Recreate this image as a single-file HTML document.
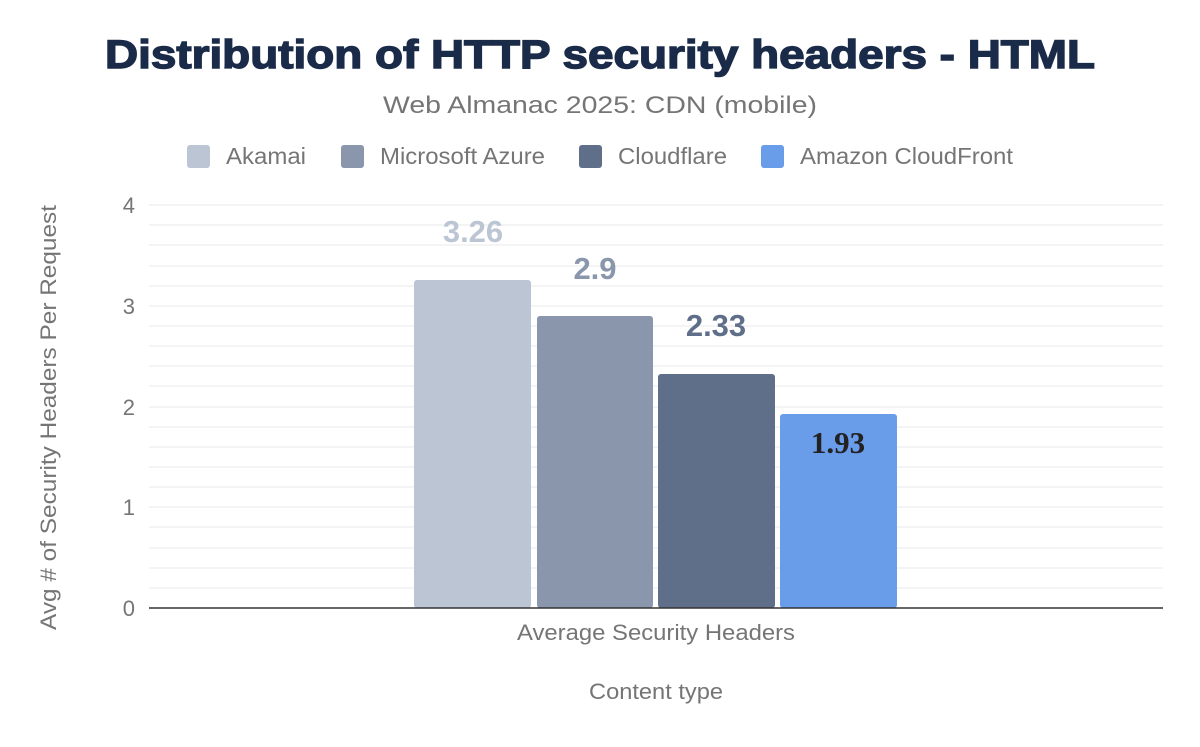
<!DOCTYPE html>
<html><head><meta charset="utf-8"><style>
body{margin:0;background:#fff;}
</style></head><body>
<svg width="1200" height="742" xmlns="http://www.w3.org/2000/svg" font-family="Liberation Sans, sans-serif">
<rect width="1200" height="742" fill="#fff"/>
<text x="105" y="68" font-size="40" font-weight="900" fill="#1a2b49" stroke="#1a2b49" stroke-width="1.4" textLength="990" lengthAdjust="spacingAndGlyphs">Distribution of HTTP security headers - HTML</text>
<text x="383" y="113" font-size="24" fill="#757575" textLength="434" lengthAdjust="spacingAndGlyphs">Web Almanac 2025: CDN (mobile)</text>
<g font-size="23" fill="#757575">
<rect x="187" y="145" width="23" height="23" rx="3" fill="#bcc5d4"/><text x="226" y="164" textLength="80" lengthAdjust="spacingAndGlyphs">Akamai</text>
<rect x="341" y="145" width="23" height="23" rx="3" fill="#8a96ac"/><text x="380" y="164" textLength="165" lengthAdjust="spacingAndGlyphs">Microsoft Azure</text>
<rect x="579" y="145" width="23" height="23" rx="3" fill="#5f6f8a"/><text x="618" y="164" textLength="109" lengthAdjust="spacingAndGlyphs">Cloudflare</text>
<rect x="761" y="145" width="23" height="23" rx="3" fill="#6a9de9"/><text x="800" y="164" textLength="213" lengthAdjust="spacingAndGlyphs">Amazon CloudFront</text>
</g>
<g stroke="#f0f0f0" stroke-width="1.5">
<line x1="149" x2="1163" y1="205" y2="205"/><line x1="149" x2="1163" y1="225" y2="225"/><line x1="149" x2="1163" y1="245" y2="245"/><line x1="149" x2="1163" y1="266" y2="266"/><line x1="149" x2="1163" y1="286" y2="286"/>
<line x1="149" x2="1163" y1="306" y2="306"/><line x1="149" x2="1163" y1="326" y2="326"/><line x1="149" x2="1163" y1="346" y2="346"/><line x1="149" x2="1163" y1="366" y2="366"/><line x1="149" x2="1163" y1="386" y2="386"/>
<line x1="149" x2="1163" y1="407" y2="407"/><line x1="149" x2="1163" y1="427" y2="427"/><line x1="149" x2="1163" y1="447" y2="447"/><line x1="149" x2="1163" y1="467" y2="467"/><line x1="149" x2="1163" y1="487" y2="487"/>
<line x1="149" x2="1163" y1="507" y2="507"/><line x1="149" x2="1163" y1="527" y2="527"/><line x1="149" x2="1163" y1="548" y2="548"/><line x1="149" x2="1163" y1="568" y2="568"/><line x1="149" x2="1163" y1="588" y2="588"/>
</g>
<g font-size="22" fill="#757575" text-anchor="end">
<text x="135" y="213">4</text><text x="135" y="314">3</text><text x="135" y="415">2</text><text x="135" y="515">1</text><text x="135" y="616">0</text>
</g>
<rect x="414" y="280" width="117" height="328" rx="3" fill="#bcc5d4"/>
<rect x="537" y="316" width="116" height="292" rx="3" fill="#8a96ac"/>
<rect x="658" y="374" width="117" height="234" rx="3" fill="#5f6f8a"/>
<rect x="780" y="414" width="117" height="194" rx="3" fill="#6a9de9"/>
<line x1="149" x2="1163" y1="608" y2="608" stroke="#333" stroke-width="1.5"/>
<g font-size="31" font-weight="bold" text-anchor="middle">
<text x="473" y="242" fill="#bcc5d4">3.26</text>
<text x="595" y="279" fill="#8a96ac">2.9</text>
<text x="716" y="336" fill="#5f6f8a">2.33</text>
<text x="838" y="453" fill="#222" font-family="Liberation Serif, serif">1.93</text>
</g>
<text x="517" y="640" font-size="22" fill="#757575" textLength="278" lengthAdjust="spacingAndGlyphs">Average Security Headers</text>
<text x="589" y="699" font-size="22" fill="#757575" textLength="134" lengthAdjust="spacingAndGlyphs">Content type</text>
<text transform="translate(56,630) rotate(-90)" font-size="22" fill="#757575" textLength="425" lengthAdjust="spacingAndGlyphs">Avg # of Security Headers Per Request</text>
</svg>
</body></html>
